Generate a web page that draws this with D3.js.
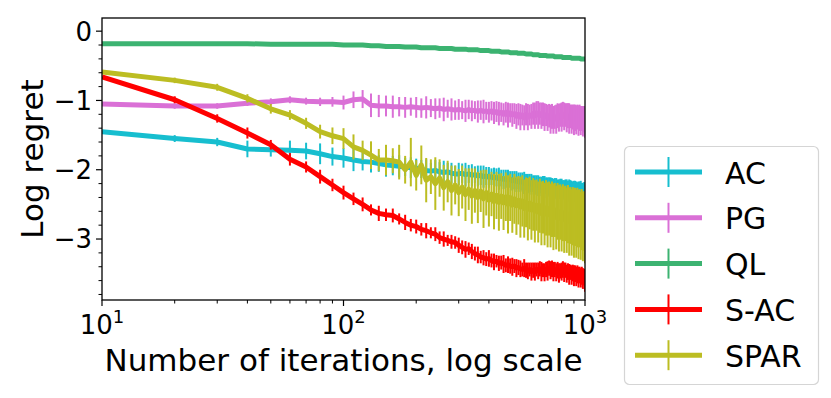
<!DOCTYPE html>
<html>
<head>
<meta charset="utf-8">
<script src="https://cdn.jsdelivr.net/npm/d3@7"></script>
<style>
  body { margin: 0; background: #fff; }
  text { font-family: "DejaVu Sans", sans-serif; fill: #000; }
</style>
</head>
<body>
<svg width="831" height="398"></svg>
<script>
// iterations 10, 20, ..., 1000
const iterations = d3.range(10, 1001, 10)
const names = ['AC', 'PG', 'QL', 'S-AC', 'SPAR']
const colors = ['#17becf', '#da70d6', '#3cb371', '#ff0000', '#bcbd22']
const xTicks = [10, 100, 1000]
const yTicks = [0, -1, -2, -3]

const acMean = [
  -1.45, -1.55, -1.60, -1.70, -1.71, -1.72, -1.73, -1.77, -1.81, -1.83,
  -1.86, -1.88, -1.89, -1.91, -1.93, -1.94, -1.95, -1.96, -1.97, -1.98,
  -1.99, -2.01, -2.02, -2.01, -2.03, -2.04, -2.03, -2.05, -2.06, -2.06,
  -2.05, -2.07, -2.06, -2.08, -2.07, -2.09, -2.08, -2.10, -2.09, -2.11,
  -2.10, -2.12, -2.11, -2.13, -2.12, -2.14, -2.13, -2.15, -2.14, -2.16,
  -2.15, -2.17, -2.16, -2.18, -2.17, -2.19, -2.18, -2.20, -2.19, -2.21,
  -2.20, -2.22, -2.21, -2.23, -2.22, -2.24, -2.22, -2.25, -2.23, -2.25,
  -2.24, -2.26, -2.24, -2.27, -2.25, -2.27, -2.26, -2.28, -2.26, -2.28,
  -2.27, -2.29, -2.27, -2.29, -2.28, -2.30, -2.28, -2.30, -2.29, -2.31,
  -2.29, -2.31, -2.30, -2.32, -2.30, -2.32, -2.31, -2.33, -2.31, -2.33
]
const acErr = [
  0.00, 0.05, 0.06, 0.12, 0.10, 0.14, 0.12, 0.15, 0.13, 0.14,
  0.16, 0.13, 0.15, 0.12, 0.17, 0.14, 0.16, 0.13, 0.15, 0.14,
  0.13, 0.16, 0.12, 0.15, 0.14, 0.17, 0.13, 0.15, 0.12, 0.16,
  0.14, 0.17, 0.13, 0.16, 0.12, 0.15, 0.14, 0.16, 0.13, 0.15,
  0.12, 0.15, 0.13, 0.16, 0.12, 0.14, 0.13, 0.15, 0.12, 0.14,
  0.13, 0.15, 0.12, 0.14, 0.13, 0.16, 0.12, 0.14, 0.13, 0.15,
  0.12, 0.14, 0.13, 0.15, 0.12, 0.14, 0.13, 0.16, 0.12, 0.14,
  0.13, 0.15, 0.12, 0.14, 0.13, 0.15, 0.12, 0.14, 0.13, 0.15,
  0.12, 0.14, 0.13, 0.15, 0.12, 0.16, 0.13, 0.14, 0.12, 0.15,
  0.13, 0.14, 0.12, 0.15, 0.13, 0.16, 0.12, 0.14, 0.13, 0.15
]

const pgMean = [
  -1.05, -1.08, -1.08, -1.04, -1.02, -0.99, -1.01, -1.02, -1.02, -1.03,
  -0.99, -0.98, -1.07, -1.08, -1.08, -1.09, -1.09, -1.10, -1.09, -1.10,
  -1.11, -1.10, -1.11, -1.12, -1.11, -1.13, -1.12, -1.13, -1.14, -1.13,
  -1.14, -1.15, -1.13, -1.15, -1.14, -1.16, -1.14, -1.16, -1.15, -1.17,
  -1.15, -1.18, -1.16, -1.19, -1.17, -1.20, -1.17, -1.21, -1.18, -1.21,
  -1.19, -1.23, -1.20, -1.24, -1.21, -1.25, -1.20, -1.24, -1.21, -1.23,
  -1.19, -1.22, -1.18, -1.21, -1.19, -1.22, -1.20, -1.24, -1.21, -1.25,
  -1.22, -1.27, -1.23, -1.28, -1.24, -1.27, -1.22, -1.25, -1.21, -1.24,
  -1.20, -1.23, -1.21, -1.25, -1.22, -1.26, -1.23, -1.27, -1.24, -1.28,
  -1.25, -1.28, -1.24, -1.29, -1.25, -1.29, -1.26, -1.30, -1.27, -1.32
]
const pgErr = [
  0.00, 0.04, 0.04, 0.04, 0.05, 0.05, 0.05, 0.06, 0.07, 0.10,
  0.12, 0.13, 0.17, 0.16, 0.15, 0.16, 0.14, 0.15, 0.13, 0.15,
  0.14, 0.16, 0.13, 0.15, 0.14, 0.17, 0.13, 0.16, 0.14, 0.15,
  0.13, 0.16, 0.14, 0.15, 0.13, 0.16, 0.14, 0.17, 0.13, 0.15,
  0.14, 0.16, 0.15, 0.17, 0.14, 0.16, 0.15, 0.18, 0.14, 0.17,
  0.15, 0.18, 0.16, 0.19, 0.15, 0.18, 0.16, 0.19, 0.15, 0.18,
  0.16, 0.19, 0.17, 0.20, 0.16, 0.19, 0.17, 0.20, 0.16, 0.19,
  0.17, 0.21, 0.18, 0.20, 0.17, 0.21, 0.18, 0.20, 0.17, 0.21,
  0.18, 0.20, 0.17, 0.21, 0.18, 0.22, 0.17, 0.21, 0.18, 0.22,
  0.19, 0.21, 0.18, 0.22, 0.19, 0.21, 0.18, 0.22, 0.19, 0.22
]

const qlMean = [
  -0.18, -0.18, -0.18, -0.18, -0.19, -0.19, -0.19, -0.19, -0.19, -0.20,
  -0.20, -0.20, -0.21, -0.21, -0.22, -0.22, -0.22, -0.23, -0.23, -0.23,
  -0.24, -0.24, -0.24, -0.24, -0.25, -0.25, -0.25, -0.25, -0.26, -0.26,
  -0.26, -0.26, -0.27, -0.27, -0.27, -0.27, -0.28, -0.28, -0.28, -0.28,
  -0.29, -0.29, -0.29, -0.29, -0.30, -0.30, -0.30, -0.30, -0.31, -0.31,
  -0.31, -0.31, -0.32, -0.32, -0.32, -0.32, -0.33, -0.33, -0.33, -0.33,
  -0.34, -0.34, -0.34, -0.34, -0.35, -0.35, -0.35, -0.35, -0.35, -0.36,
  -0.36, -0.36, -0.36, -0.36, -0.37, -0.37, -0.37, -0.37, -0.37, -0.37,
  -0.38, -0.38, -0.38, -0.38, -0.38, -0.38, -0.38, -0.39, -0.39, -0.39,
  -0.39, -0.39, -0.39, -0.39, -0.39, -0.40, -0.40, -0.40, -0.40, -0.40
]
const qlErr = [
  0.00, 0.01, 0.01, 0.01, 0.01, 0.01, 0.01, 0.01, 0.01, 0.01,
  0.01, 0.01, 0.01, 0.01, 0.01, 0.01, 0.01, 0.01, 0.01, 0.01,
  0.01, 0.01, 0.01, 0.01, 0.01, 0.01, 0.01, 0.01, 0.01, 0.01,
  0.01, 0.01, 0.01, 0.01, 0.01, 0.01, 0.01, 0.01, 0.01, 0.01,
  0.01, 0.01, 0.01, 0.01, 0.01, 0.01, 0.01, 0.01, 0.01, 0.01,
  0.01, 0.01, 0.01, 0.01, 0.01, 0.01, 0.01, 0.01, 0.01, 0.01,
  0.01, 0.01, 0.01, 0.01, 0.01, 0.01, 0.01, 0.01, 0.01, 0.01,
  0.01, 0.01, 0.01, 0.01, 0.01, 0.01, 0.01, 0.01, 0.01, 0.01,
  0.01, 0.01, 0.01, 0.01, 0.01, 0.01, 0.01, 0.01, 0.01, 0.01,
  0.01, 0.01, 0.01, 0.01, 0.01, 0.01, 0.01, 0.01, 0.01, 0.01
]

const sacMean = [
  -0.66, -0.99, -1.26, -1.47, -1.64, -1.85, -1.96, -2.10, -2.22, -2.33,
  -2.42, -2.50, -2.58, -2.63, -2.65, -2.66, -2.71, -2.76, -2.80, -2.82,
  -2.86, -2.88, -2.91, -2.93, -2.98, -3.00, -3.02, -3.04, -3.05, -3.09,
  -3.12, -3.15, -3.14, -3.18, -3.21, -3.23, -3.26, -3.27, -3.29, -3.28,
  -3.31, -3.33, -3.32, -3.35, -3.34, -3.36, -3.38, -3.37, -3.39, -3.40,
  -3.39, -3.42, -3.41, -3.43, -3.44, -3.42, -3.45, -3.46, -3.44, -3.47,
  -3.45, -3.47, -3.44, -3.46, -3.43, -3.47, -3.45, -3.48, -3.44, -3.46,
  -3.42, -3.45, -3.43, -3.47, -3.44, -3.48, -3.45, -3.49, -3.46, -3.47,
  -3.44, -3.48, -3.45, -3.50, -3.47, -3.51, -3.48, -3.52, -3.49, -3.53,
  -3.50, -3.54, -3.51, -3.55, -3.52, -3.56, -3.53, -3.57, -3.55, -3.60
]
const sacErr = [
  0.00, 0.05, 0.06, 0.08, 0.07, 0.09, 0.08, 0.10, 0.09, 0.10,
  0.09, 0.10, 0.08, 0.11, 0.09, 0.10, 0.08, 0.11, 0.09, 0.10,
  0.09, 0.11, 0.08, 0.10, 0.09, 0.11, 0.08, 0.10, 0.09, 0.11,
  0.10, 0.12, 0.09, 0.11, 0.10, 0.12, 0.09, 0.11, 0.10, 0.12,
  0.10, 0.12, 0.09, 0.11, 0.10, 0.13, 0.10, 0.12, 0.11, 0.13,
  0.10, 0.13, 0.11, 0.12, 0.10, 0.13, 0.11, 0.12, 0.10, 0.13,
  0.11, 0.13, 0.10, 0.12, 0.11, 0.14, 0.10, 0.13, 0.11, 0.14,
  0.11, 0.13, 0.12, 0.14, 0.11, 0.13, 0.12, 0.14, 0.11, 0.13,
  0.12, 0.14, 0.11, 0.13, 0.12, 0.15, 0.11, 0.14, 0.12, 0.15,
  0.12, 0.14, 0.13, 0.15, 0.12, 0.14, 0.13, 0.15, 0.12, 0.16
]

const sparMean = [
  -0.59, -0.71, -0.81, -0.97, -1.12, -1.21, -1.33, -1.45, -1.51, -1.55,
  -1.67, -1.72, -1.79, -1.86, -1.86, -1.87, -1.89, -2.00, -1.89, -2.08,
  -1.93, -2.15, -2.10, -2.20, -2.12, -2.26, -2.17, -2.30, -2.22, -2.33,
  -2.25, -2.36, -2.28, -2.38, -2.30, -2.40, -2.31, -2.42, -2.33, -2.44,
  -2.35, -2.46, -2.37, -2.47, -2.38, -2.48, -2.39, -2.50, -2.40, -2.51,
  -2.42, -2.52, -2.44, -2.54, -2.45, -2.56, -2.47, -2.57, -2.48, -2.58,
  -2.50, -2.60, -2.51, -2.61, -2.52, -2.63, -2.54, -2.64, -2.55, -2.65,
  -2.56, -2.66, -2.57, -2.68, -2.58, -2.69, -2.60, -2.70, -2.61, -2.71,
  -2.62, -2.72, -2.63, -2.73, -2.64, -2.75, -2.66, -2.76, -2.67, -2.77,
  -2.68, -2.78, -2.69, -2.79, -2.70, -2.81, -2.72, -2.82, -2.74, -2.85
]
const sparErr = [
  0.00, 0.04, 0.05, 0.06, 0.07, 0.07, 0.08, 0.10, 0.12, 0.15,
  0.18, 0.14, 0.20, 0.16, 0.22, 0.18, 0.25, 0.20, 0.35, 0.22,
  0.28, 0.32, 0.25, 0.38, 0.27, 0.33, 0.30, 0.36, 0.28, 0.34,
  0.31, 0.38, 0.30, 0.40, 0.32, 0.37, 0.30, 0.42, 0.33, 0.38,
  0.32, 0.40, 0.34, 0.41, 0.33, 0.39, 0.35, 0.42, 0.34, 0.40,
  0.36, 0.42, 0.35, 0.44, 0.37, 0.42, 0.36, 0.45, 0.38, 0.43,
  0.38, 0.45, 0.37, 0.44, 0.39, 0.46, 0.38, 0.45, 0.40, 0.47,
  0.39, 0.46, 0.40, 0.48, 0.39, 0.46, 0.41, 0.48, 0.40, 0.47,
  0.41, 0.48, 0.40, 0.47, 0.42, 0.49, 0.41, 0.48, 0.42, 0.50,
  0.42, 0.49, 0.43, 0.50, 0.42, 0.49, 0.44, 0.50, 0.43, 0.50
]

const means = [acMean, pgMean, qlMean, sacMean, sparMean]
const errs = [acErr, pgErr, qlErr, sacErr, sparErr]

const svg = d3.select('svg')
const x = d3.scaleLog().domain([10, 1000]).range([102, 585])
const y = d3.scaleLinear().domain([-3.88, 0.19]).range([300, 18])

svg.append('defs').append('clipPath').attr('id', 'plot')
  .append('rect').attr('x', 102).attr('y', 18).attr('width', 483).attr('height', 282)

const plot = svg.append('g').attr('clip-path', 'url(#plot)')

// each series: line then its error bars
names.forEach((name, k) => {
  const pts = iterations.map((n, i) => ({ n: n, v: means[k][i], e: errs[k][i] }))
  const g = plot.append('g')
  g.append('path')
    .datum(pts)
    .attr('fill', 'none')
    .attr('stroke', colors[k])
    .attr('stroke-width', 5)
    .attr('stroke-linejoin', 'round')
    .attr('d', d3.line().x(d => x(d.n)).y(d => y(d.v)))
  g.selectAll('line')
    .data(pts.filter(d => d.e > 0))
    .enter()
    .append('line')
    .attr('x1', d => x(d.n)).attr('x2', d => x(d.n))
    .attr('y1', d => y(d.v - d.e)).attr('y2', d => y(d.v + d.e))
    .attr('stroke', colors[k])
    .attr('stroke-width', 2)
})

// axes
const xMinor = [20, 30, 40, 50, 60, 70, 80, 90, 200, 300, 400, 500, 600, 700, 800, 900]
const yMinor = d3.range(-38, 1, 2).map(v => v / 10).filter(v => !Number.isInteger(v))

const xAxis = svg.append('g').attr('transform', 'translate(0,300)')
xAxis.selectAll('.maj').data(xTicks).enter().append('line')
  .attr('x1', d => x(d)).attr('x2', d => x(d)).attr('y1', 0).attr('y2', 6)
  .attr('stroke', '#000').attr('stroke-width', 1.2)
xAxis.selectAll('.min').data(xMinor).enter().append('line')
  .attr('x1', d => x(d)).attr('x2', d => x(d)).attr('y1', 0).attr('y2', 3.5)
  .attr('stroke', '#000').attr('stroke-width', 1)
const xl = xAxis.selectAll('.lab').data(xTicks).enter().append('text')
  .attr('x', d => x(d)).attr('y', 34)
  .attr('text-anchor', 'middle')
  .style('font-size', '26px')
xl.append('tspan').text('10')
xl.append('tspan').attr('dy', -11).style('font-size', '18px').text(d => Math.log10(d))

const yAxis = svg.append('g').attr('transform', 'translate(102,0)')
yAxis.selectAll('.maj').data(yTicks).enter().append('line')
  .attr('x1', -6).attr('x2', 0).attr('y1', d => y(d)).attr('y2', d => y(d))
  .attr('stroke', '#000').attr('stroke-width', 1.2)
yAxis.selectAll('.min').data(yMinor).enter().append('line')
  .attr('x1', -3.5).attr('x2', 0).attr('y1', d => y(d)).attr('y2', d => y(d))
  .attr('stroke', '#000').attr('stroke-width', 1)
yAxis.selectAll('.lab').data(yTicks).enter().append('text')
  .attr('x', -10).attr('y', d => y(d)).attr('dy', '0.36em')
  .attr('text-anchor', 'end')
  .style('font-size', '26px')
  .text(d => d3.format('d')(d))

svg.append('rect').attr('x', 102).attr('y', 18).attr('width', 483).attr('height', 282)
  .attr('fill', 'none').attr('stroke', '#000').attr('stroke-width', 1.3)

svg.append('text').attr('x', 343.5).attr('y', 371).attr('text-anchor', 'middle')
  .style('font-size', '31px').text('Number of iterations, log scale')
svg.append('text').attr('transform', 'translate(43,159) rotate(-90)').attr('text-anchor', 'middle')
  .style('font-size', '31px').text('Log regret')

// legend
const leg = svg.append('g')
leg.append('rect').attr('x', 624.5).attr('y', 146.5).attr('width', 194).attr('height', 238)
  .attr('rx', 5).attr('fill', '#fff').attr('fill-opacity', 0.8)
  .attr('stroke', '#d5d5d5').attr('stroke-width', 1.2)
const items = leg.selectAll('.item').data(names).enter().append('g')
  .attr('transform', (d, i) => `translate(0,${172 + i * 45.8})`)
items.append('line').attr('x1', 635).attr('x2', 702).attr('y1', 0).attr('y2', 0)
  .attr('stroke', (d, i) => colors[i]).attr('stroke-width', 5)
items.append('line').attr('x1', 668.5).attr('x2', 668.5).attr('y1', -15).attr('y2', 15)
  .attr('stroke', (d, i) => colors[i]).attr('stroke-width', 2)
items.append('text').attr('x', 725).attr('y', 11.5)
  .style('font-size', '30px').text(d => d)
</script>
</body>
</html>
